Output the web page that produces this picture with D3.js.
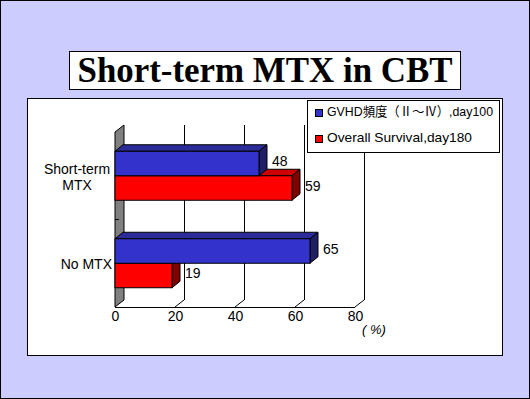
<!DOCTYPE html>
<html>
<head>
<meta charset="utf-8">
<script src="https://cdn.jsdelivr.net/npm/d3@7"></script>
<style>
  body { margin: 0; background: #ccccff; }
  svg { display: block; }
</style>
</head>
<body>
<script>
const categories = ['Short-term MTX', 'No MTX'];
const categoryLines = [['Short-term', 'MTX'], ['No MTX']];
const series = ['GVHD頻度（Ⅱ～Ⅳ）,day100', 'Overall Survival,day180'];
const gvhd = [48, 65];
const survival = [59, 19];
const ticks = [0, 20, 40, 60, 80];

const colors = [
  { front : '#3333cc', top : '#2b2b99', side : '#1f1f66' },
  { front : '#ff0000', top : '#cc0000', side : '#800000' }
];

const width = 530;
const height = 399;

const svg = d3.select('body').append('svg')
  .attr('width', width)
  .attr('height', height);

// slide background + border
svg.append('rect')
  .attr('x', 0.5).attr('y', 0.5)
  .attr('width', width - 1).attr('height', height - 1)
  .attr('fill', '#ccccff').attr('stroke', '#000');

// title box
svg.append('rect')
  .attr('x', 69.5).attr('y', 51.5)
  .attr('width', 391).attr('height', 38)
  .attr('fill', '#fff').attr('stroke', '#000');

svg.append('text')
  .attr('x', 265).attr('y', 82)
  .attr('text-anchor', 'middle')
  .attr('font-family', '"Liberation Serif", "Times New Roman", serif')
  .attr('font-weight', 'bold')
  .attr('font-size', 36)
  .attr('textLength', 375)
  .attr('lengthAdjust', 'spacingAndGlyphs')
  .text('Short-term MTX in CBT');

// chart area
svg.append('rect')
  .attr('x', 27.5).attr('y', 98.5)
  .attr('width', 475).attr('height', 257)
  .attr('fill', '#fff').attr('stroke', '#000');

const font = '"Liberation Sans", Arial, sans-serif';
const wallDx = 9, wallDy = -7;
const barDx = 8, barDy = -6.5;

const x = d3.scaleLinear().domain([0, 80]).range([115, 355]);
const y = d3.scaleBand().domain(categories).range([132, 307])
  .paddingInner(0.44).paddingOuter(0.22);
const ySub = d3.scaleBand().domain(series).range([0, y.bandwidth()]);

const yTop = y.range()[0], yBot = y.range()[1];

// left wall
svg.append('polygon')
  .attr('points', [[x(0), yTop], [x(0) + wallDx, yTop + wallDy], [x(0) + wallDx, yBot + wallDy], [x(0), yBot]].join(' '))
  .attr('fill', '#808080').attr('stroke', '#000');

// gridlines on back wall and floor ticks
const grid = svg.append('g').attr('stroke', '#000').attr('fill', 'none');
grid.selectAll('.grid').data(ticks.filter(t => t > 0)).enter().append('line')
  .attr('x1', d => x(d) + wallDx + 0.5).attr('x2', d => x(d) + wallDx + 0.5)
  .attr('y1', yTop + wallDy).attr('y2', yBot + wallDy);
grid.selectAll('.diag').data(ticks.filter(t => t > 0)).enter().append('line')
  .attr('x1', d => x(d)).attr('y1', yBot)
  .attr('x2', d => x(d) + wallDx).attr('y2', yBot + wallDy);
grid.append('line')
  .attr('x1', x(0)).attr('x2', x(80))
  .attr('y1', yBot + 0.5).attr('y2', yBot + 0.5);
// category tick between bands
grid.append('line')
  .attr('x1', x(0)).attr('x2', x(0) + 4)
  .attr('y1', yTop + y.step()).attr('y2', yTop + y.step());

// bars
const rows = categories.map((c, i) => ({ cat : c, values : [gvhd[i], survival[i]] }));

const group = svg.selectAll('.Group')
  .data(rows)
  .enter()
  .append('g')
  .attr('class', 'Group')
  .attr('transform', d => `translate(0, ${y(d.cat)})`);

function barFaces(g, v, si) {
  const x0 = x(0), x1 = x(v);
  const y0 = ySub(series[si]), h = ySub.bandwidth();
  const c = colors[si];
  g.append('polygon')
    .attr('points', [[x0, y0], [x1, y0], [x1 + barDx, y0 + barDy], [x0 + barDx, y0 + barDy]].join(' '))
    .attr('fill', c.top).attr('stroke', '#000');
  g.append('polygon')
    .attr('points', [[x1, y0], [x1 + barDx, y0 + barDy], [x1 + barDx, y0 + h + barDy], [x1, y0 + h]].join(' '))
    .attr('fill', c.side).attr('stroke', '#000');
  g.append('rect')
    .attr('x', x0).attr('y', y0)
    .attr('width', x1 - x0).attr('height', h)
    .attr('fill', c.front).attr('stroke', '#000');
  g.append('text')
    .attr('x', x1 + barDx + 5).attr('y', y0 + h / 2 - 1)
    .attr('dominant-baseline', 'middle')
    .attr('font-family', font).attr('font-size', 14)
    .text(v);
}

group.each(function(d) {
  const g = d3.select(this);
  // draw lower (red) bar first so the blue bar overlaps it
  barFaces(g, d.values[1], 1);
  barFaces(g, d.values[0], 0);
});

// category labels
categories.forEach((c, i) => {
  const lines = categoryLines[i];
  const cy = y(c) + y.bandwidth() / 2;
  const t = svg.append('text')
    .attr('font-family', font).attr('font-size', 14)
    .attr('text-anchor', lines.length > 1 ? 'middle' : 'end');
  lines.forEach((l, j) => {
    t.append('tspan')
      .attr('x', lines.length > 1 ? 77 : 112)
      .attr('y', cy + (j - (lines.length - 1) / 2) * 16 + 6)
      .text(l);
  });
});

// x axis labels
const axis = svg.append('g')
  .attr('transform', `translate(0, ${yBot + 4})`)
  .call(d3.axisBottom(x).tickValues(ticks).tickSize(0).tickPadding(0));
axis.select('.domain').remove();
axis.selectAll('text')
  .attr('font-family', font).attr('font-size', 14)
  .attr('fill', '#000');

svg.append('text')
  .attr('x', 362).attr('y', 334)
  .attr('font-family', font).attr('font-size', 13)
  .attr('font-style', 'italic')
  .text('( %)');

// legend
svg.append('rect')
  .attr('x', 307.5).attr('y', 100.5)
  .attr('width', 192).attr('height', 52)
  .attr('fill', '#fff').attr('stroke', '#000');

const legendWidths = [166, 145];

const legend = svg.selectAll('.Legend')
  .data(series)
  .enter()
  .append('g')
  .attr('class', 'Legend')
  .attr('transform', (d, i) => `translate(315, ${113 + i * 26})`);

legend.append('rect')
  .attr('x', 0.5).attr('y', -3.5)
  .attr('width', 7).attr('height', 7)
  .attr('fill', (d, i) => colors[i].front)
  .attr('stroke', '#000');

legend.append('text')
  .attr('x', 12).attr('y', 0)
  .attr('dominant-baseline', 'middle')
  .attr('font-family', '"Liberation Sans", Arial, "Noto Sans CJK JP", sans-serif')
  .attr('font-size', 13)
  .attr('textLength', (d, i) => legendWidths[i])
  .attr('lengthAdjust', 'spacingAndGlyphs')
  .text(d => d);
</script>
</body>
</html>
